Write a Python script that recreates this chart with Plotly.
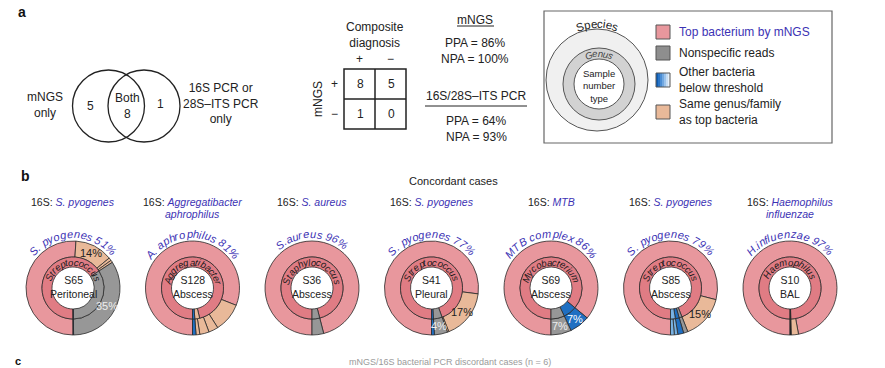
import math
import plotly.graph_objects as go

W, H = 885, 368
FONT = "Liberation Sans, Arial, Helvetica, sans-serif"
BLUE_TXT = "#3C32B4"

# ---------------- data ----------------
venn_labels = ["mNGS<br>only", "Both<br>8", "16S PCR or<br>28S\u2013ITS PCR<br>only"]
venn_counts = [5, 8, 1]
table_values = [[8, 5], [1, 0]]
mngs_stats = ["PPA = 86%", "NPA = 100%"]
pcr_stats = ["PPA = 64%", "NPA = 93%"]
legend_items = ["Top bacterium by mNGS", "Nonspecific reads",
                "Other bacteria<br>below threshold", "Same genus/family<br>as top bacteria"]

samples = ["S65", "S128", "S36", "S41", "S69", "S85", "S10"]
sample_types = ["Peritoneal", "Abscess", "Abscess", "Pleural", "Abscess", "Abscess", "BAL"]
pcr_species = ["S. pyogenes", "Aggregatibacter<br>aphrophilus", "S. aureus", "S. pyogenes",
               "MTB", "S. pyogenes", "Haemophilus<br>influenzae"]
species_labels = ["S. pyogenes 51%", "A. aphrophilus 81%", "S.aureus 96%", "S. pyogenes 77%",
                  "MTB complex 86%", "S. pyogenes 79%", "H.influenzae 97%"]
genus_labels = ["Streptococcus", "Aggregatibacter", "Staphylococcus", "Streptococcus",
                "Mycobacterium", "Streptococcus", "Haemophilus"]

# outer ring (species), clockwise from 6 o'clock
outer_values = [[51, 13, 1, 0.8, 34, 0.2],
                [81, 10, 3.3, 3.2, 1.3, 1.2],
                [96, 4],
                [77, 17, 0.5, 4.5, 1.0],
                [86, 7, 7],
                [79, 15, 1.5, 2.0, 1.2, 1.3],
                [97.1, 2.5, 0.4]]
outer_cats = [["T", "S", "S", "S", "N", "O"],
              ["T", "S", "S", "S", "S", "O"],
              ["T", "N"],
              ["T", "S", "S", "N", "O"],
              ["T", "O", "N"],
              ["T", "S", "N", "O", "L", "L"],
              ["T", "S", "K"]]
outer_text = [["", "14%", "", "", "35%", ""],
              ["", "", "", "", "", ""],
              ["", ""],
              ["", "17%", "", "4%", ""],
              ["", "7%", "7%"],
              ["", "15%", "", "", "", ""],
              ["", "", ""]]
# inner ring (genus)
inner_values = [[65.8, 34, 0.2],
                [96.3, 2.5, 1.2],
                [96, 4],
                [94.5, 4.5, 1.0],
                [86, 7, 7],
                [94, 1.5, 2.0, 2.5],
                [99.6, 0.4]]
inner_cats = [["G", "N", "O"],
              ["G", "S", "O"],
              ["G", "N"],
              ["G", "N", "O"],
              ["G", "O", "N"],
              ["G", "N", "O", "L"],
              ["G", "K"]]

COL = {"T": "#E8979D", "G": "#E07C84", "S": "#E9B999", "N": "#979797",
       "O": "#1F6FC2", "L": "#78B2E3", "K": "#1a1a1a"}
TXTCOL = {"S": "#222222", "N": "#EEEEEE", "O": "#FFFFFF", "T": "#222222"}

# ---------------- helpers ----------------
def X(px):
    return px / W

def Y(py):
    return 1 - py / H

annotations = []
shapes = []

def text(x, y, s, size=12, color="#222222", xanchor="center", yanchor="middle", angle=0,
         family=FONT, align="center"):
    annotations.append(dict(x=X(x), y=Y(y), xref="paper", yref="paper", text=s, showarrow=False,
                            font=dict(size=size, color=color, family=family), align=align,
                            xanchor=xanchor, yanchor=yanchor, textangle=angle))

def line(x0, y0, x1, y1, color="#222222", width=1):
    shapes.append(dict(type="line", xref="paper", yref="paper", x0=X(x0), y0=Y(y0), x1=X(x1), y1=Y(y1),
                       line=dict(color=color, width=width)))

def rect(x0, y0, x1, y1, color="#222222", width=1, fill="rgba(0,0,0,0)"):
    shapes.append(dict(type="rect", xref="paper", yref="paper", x0=X(x0), y0=Y(y1), x1=X(x1), y1=Y(y0),
                       line=dict(color=color, width=width), fillcolor=fill))

def circle(cx, cy, r, color="#222222", width=1, fill="rgba(0,0,0,0)"):
    shapes.append(dict(type="circle", xref="paper", yref="paper", x0=X(cx - r), y0=Y(cy + r),
                       x1=X(cx + r), y1=Y(cy - r), line=dict(color=color, width=width), fillcolor=fill))

CW = {" ": .278, ".": .278, "%": .889, ":": .278}
for c in "abdeghnopqu":
    CW[c] = .556
for c in "cksvxyz":
    CW[c] = .5
CW.update({"f": .278, "t": .278, "i": .222, "j": .222, "l": .222, "r": .333, "m": .833, "w": .722})
for c in "0123456789":
    CW[c] = .556
CW.update({"A": .667, "B": .667, "C": .722, "H": .722, "M": .833, "S": .667, "T": .611, "G": .778})

def curved(cx, cy, r, s, size, color, italic=False, center=90.0, spacing=1.0):
    widths = [CW.get(c, .556) * size * spacing for c in s]
    L = sum(widths)
    pos = -L / 2
    for c, w in zip(s, widths):
        mid = pos + w / 2
        th = center - math.degrees(mid / r)
        x = cx + r * math.cos(math.radians(th))
        y = cy - r * math.sin(math.radians(th))
        if c != " ":
            t = "<i>%s</i>" % c if italic else c
            text(x, y, t, size=size, color=color, angle=90 - th)
        pos += w

# ---------------- panel a ----------------
text(22, 12, "<b>a</b>", size=14, color="#111")
text(25, 176, "<b>b</b>", size=14, color="#111")
text(18, 361, "<b>c</b>", size=11, color="#111")

# Venn
circle(108.5, 106, 36, width=1.3)
circle(144, 106, 36, width=1.3)
text(45, 105, venn_labels[0], size=12)
text(90, 106, str(venn_counts[0]), size=12)
text(127, 106, venn_labels[1], size=12)
text(160, 104, str(venn_counts[2]), size=12)
text(221, 104, venn_labels[2], size=12)

# 2x2 table
text(375, 35, "Composite<br>diagnosis", size=12)
text(359, 59, "+", size=12)
text(390, 59, "\u2212", size=12)
rect(344, 69, 406, 129, width=1.5)
line(375, 69, 375, 129, width=1.5)
line(344, 99, 406, 99, width=1.5)
for i in range(2):
    for j in range(2):
        text(360 + 31 * j, 84 + 30 * i, str(table_values[i][j]), size=12)
text(318, 99, "mNGS", size=12, angle=-90)
text(334, 84, "+", size=12)
text(334, 114, "\u2212", size=12)

text(475, 20, "mNGS", size=12)
line(457, 26, 494, 26, width=1)
text(475, 43, mngs_stats[0], size=12)
text(475, 59, mngs_stats[1], size=12)
text(476, 96, "16S/28S\u2013ITS PCR", size=12)
line(425, 106, 527, 106, width=1)
text(476, 121, pcr_stats[0], size=12)
text(476, 137, pcr_stats[1], size=12)

# legend box
rect(544, 11, 832, 143, color="#666666", width=1.2)
circle(597, 80, 51, color="#555555", width=1, fill="#F0F0F0")
circle(599, 84, 36, color="#555555", width=1, fill="#D2D2D2")
circle(599, 84, 25, color="#555555", width=1, fill="#FFFFFF")
curved(597, 80, 56, "Species", 11.5, "#222222", spacing=1.05)
curved(599, 84, 30.5, "Genus", 9.5, "#444444", italic=True, spacing=1.05)
text(599, 86, "Sample<br>number<br>type", size=9.5)

rect(656, 25, 670, 39, color="#555", width=1, fill=COL["T"])
rect(656, 46, 670, 60, color="#555", width=1, fill="#8E8E8E")
grad = ["#0D5DB4", "#2A75C6", "#4B8DD4", "#72A8E0", "#9CC3EB", "#C6DDF4", "#E6F0FA"]
for k, gc in enumerate(grad):
    shapes.append(dict(type="rect", xref="paper", yref="paper", x0=X(656 + 2 * k), x1=X(658 + 2 * k),
                       y0=Y(87), y1=Y(73), line=dict(width=0), fillcolor=gc))
rect(656, 73, 670, 87, color="#555", width=1)
rect(656, 105, 670, 119, color="#555", width=1, fill=COL["S"])
text(677, 32, legend_items[0], size=12, color=BLUE_TXT, xanchor="left", align="left")
text(677, 53, legend_items[1], size=12, xanchor="left", align="left")
text(677, 80, legend_items[2], size=12, xanchor="left", align="left")
text(677, 112, legend_items[3], size=12, xanchor="left", align="left")

# ---------------- panel b ----------------
text(453, 181, "Concordant cases", size=11)
text(450, 362, "mNGS/16S bacterial PCR discordant cases (n = 6)", size=9, color="#9a9a9a")

R_OUT, R_MID, R_IN = 47, 31, 21
CY = 288
fig = go.Figure()
for i, s in enumerate(samples):
    cx = 73 + i * 119.5
    for vals, cats, R, hole in ((outer_values[i], outer_cats[i], R_OUT, R_MID / R_OUT),
                                (inner_values[i], inner_cats[i], R_MID, R_IN / R_MID)):
        fig.add_trace(go.Pie(values=vals, marker=dict(colors=[COL[c] for c in cats],
                                                      line=dict(color="#2a2a2a", width=0.8)),
                             hole=hole, sort=False, direction="clockwise", rotation=180,
                             textinfo="none", hoverinfo="skip", showlegend=False,
                             domain=dict(x=[X(cx - R), X(cx + R)], y=[Y(CY + R), Y(CY - R)])))
    # percentage labels in outer slices
    tot = sum(outer_values[i])
    cum = 0
    for v, c, t in zip(outer_values[i], outer_cats[i], outer_text[i]):
        midf = (cum + v / 2) / tot
        cum += v
        if t:
            phi = math.radians(180 + 360 * midf)
            rr = 39
            text(cx + rr * math.sin(phi), CY - rr * math.cos(phi), t, size=11, color=TXTCOL.get(c, "#222"))
    # labels
    curved(cx, CY, 54, species_labels[i], 11, BLUE_TXT, italic=True, spacing=1.12)
    curved(cx, CY, 26, genus_labels[i], 9.5, "#1a1a1a", italic=True, spacing=1.12)
    text(cx, CY - 1, "%s<br>%s" % (s, sample_types[i]), size=10.5)
    sp = pcr_species[i].split("<br>")
    text(cx, 202, "16S: <i><span style='color:%s'>%s</span></i>" % (BLUE_TXT, sp[0]), size=10.5)
    if len(sp) > 1:
        text(cx, 214, "<i>%s</i>" % sp[1], size=10.5, color=BLUE_TXT)

fig.update_layout(width=W, height=H, margin=dict(l=0, r=0, t=0, b=0),
                  paper_bgcolor="white", plot_bgcolor="white",
                  annotations=annotations, shapes=shapes, font=dict(family=FONT))
fig.write_html("out.html", config={"displayModeBar": False},
               post_script="document.body.style.margin='0';document.body.style.overflow='hidden';")
